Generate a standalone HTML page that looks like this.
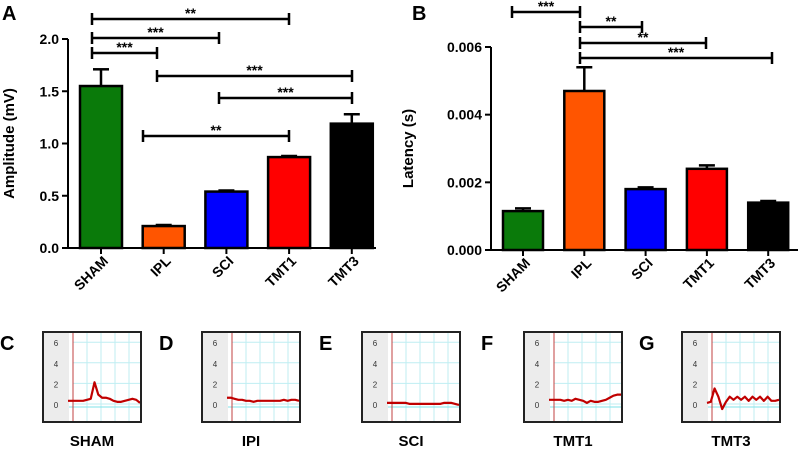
<!DOCTYPE html>
<html><head><meta charset="utf-8">
<style>
body{margin:0;background:#fff;}
svg{display:block;font-family:"Liberation Sans",sans-serif;}
</style></head>
<body>
<svg id="fig" width="800" height="449" viewBox="0 0 800 449" xmlns="http://www.w3.org/2000/svg"></svg>
<script>
const categories = ["SHAM","IPL","SCI","TMT1","TMT3"];
const colors = ["#0a7a0a","#ff5500","#0000ff","#ff0000","#000000"];
const ampValues = [1.55,0.21,0.54,0.87,1.19];
const ampErrors = [0.16,0.01,0.01,0.01,0.09];
const ampTicks = [0,0.5,1.0,1.5,2.0];
const latValues = [0.00115,0.0047,0.0018,0.0024,0.0014];
const latErrors = [0.00008,0.0007,0.00005,0.0001,0.00005];
const latTicks = [0,0.002,0.004,0.006];
const traceLabels = ["SHAM","IPI","SCI","TMT1","TMT3"];
const traceLetters = ["C","D","E","F","G"];
const traceSham = [0.6,0.6,0.6,0.6,0.6,0.7,0.8,2.4,1.2,0.9,0.9,0.8,0.6,0.5,0.5,0.6,0.7,0.8,0.7,0.4];
const traceIpi = [0.9,0.9,0.8,0.7,0.7,0.6,0.6,0.5,0.6,0.6,0.6,0.6,0.6,0.6,0.6,0.7,0.6,0.7,0.7,0.6];
const traceSci = [0.4,0.4,0.4,0.4,0.4,0.4,0.3,0.3,0.3,0.3,0.3,0.3,0.3,0.3,0.3,0.4,0.4,0.4,0.3,0.2];
const traceTmt1 = [0.7,0.7,0.7,0.7,0.6,0.7,0.6,0.8,0.7,0.6,0.4,0.6,0.5,0.5,0.6,0.7,0.9,1.1,1.2,1.2];
const traceTmt3 = [0.4,0.5,1.8,1.0,-0.2,0.5,1.0,0.7,1.0,0.7,1.0,0.6,1.0,0.7,1.0,0.6,1.0,0.6,0.6,0.7];
const traces = [traceSham,traceIpi,traceSci,traceTmt1,traceTmt3];
const ampSig = [[0,3,19,"**"],[0,2,38,"***"],[0,1,53,"***"],[1,4,76,"***"],[2,4,98,"***"],[5,3,136,"**"]];
const latSig = [[0,1,12,"***"],[1,2,27,"**"],[1,3,43,"**"],[1,4,58,"***"]];

const svg = document.getElementById('fig');
const NS = "http://www.w3.org/2000/svg";
function mk(tag, attrs, parent){const e=document.createElementNS(NS,tag);for(const k in attrs)e.setAttribute(k,attrs[k]);(parent||svg).appendChild(e);return e;}

function barChart(o){
  const g = mk('g',{});
  
  
  const y = v => o.y0 - (v/o.max)*(o.y0-o.yTop);
  const xc = i => o.x0c + i*o.step;
  o.values.forEach((v,i)=>{
    const top=y(v+o.errors[i]);
    const el=mk('line',{x1:xc(i),x2:xc(i),y1:top,y2:y(v),stroke:'#000','stroke-width':2.5},g);
    
    
    const cap=mk('line',{x1:xc(i)-8,x2:xc(i)+8,y1:top,y2:top,stroke:'#000','stroke-width':2.5},g);
    
    
    const r=mk('rect',{x:xc(i)-o.bw/2,y:y(v),width:o.bw,height:o.y0-y(v),fill:colors[i],stroke:'#000','stroke-width':2.5},g);
    
    
  });
  const ya=mk('line',{x1:o.ax,x2:o.ax,y1:o.yTop,y2:o.y0,stroke:'#000','stroke-width':2},g);
  
  
  const xa=mk('line',{x1:o.ax,x2:o.xEnd,y1:o.y0,y2:o.y0,stroke:'#000','stroke-width':2},g);
  
  
  o.ticks.forEach(t=>{
    mk('line',{x1:o.ax-6,x2:o.ax,y1:y(t),y2:y(t),stroke:'#000','stroke-width':2},g);
    const tx=mk('text',{x:o.ax-9,y:y(t)+5,'text-anchor':'end','font-size':14,'font-weight':'bold'},g);
    tx.textContent=o.fmt(t);
    
    
  });
  categories.forEach((c,i)=>{
    mk('line',{x1:xc(i),x2:xc(i),y1:o.y0,y2:o.y0+6,stroke:'#000','stroke-width':2},g);
    const tx=mk('text',{x:xc(i)+8,y:o.y0+14,'text-anchor':'end','font-size':14,'font-weight':'bold',transform:`rotate(-45 ${xc(i)+8} ${o.y0+14})`},g);
    tx.textContent=c;
    
    
  });
  const yt=mk('text',{x:0,y:0,'text-anchor':'middle','font-size':15,'font-weight':'bold',transform:`translate(${o.titleX} ${(o.y0+o.yTop)/2}) rotate(-90)`},g);
  yt.textContent=o.title;
  
  
  const pl=mk('text',{x:o.letterX,y:20,'font-size':20,'font-weight':'bold'},g);
  pl.textContent=o.letter;
  
  
  o.sig.forEach(s=>{
    const x1=o.sigX[s[0]], x2=o.sigX[s[1]], yy=s[2];
    const b=mk('path',{d:`M${x1} ${yy-6}V${yy+6}M${x1} ${yy}H${x2}M${x2} ${yy-6}V${yy+6}`,stroke:'#000','stroke-width':2.5,fill:'none'},g);
    
    
    const st=mk('text',{x:(x1+x2)/2,y:yy-1,'text-anchor':'middle','font-size':14,'font-weight':'bold'},g);
    st.textContent=s[3];
    
    
  });
}
barChart({name:'amplitude-chart',values:ampValues,errors:ampErrors,ticks:ampTicks,max:2.0,y0:248,yTop:39,ax:68,xEnd:376,x0c:101,step:62.7,bw:42,fmt:t=>t.toFixed(1),title:'Amplitude (mV)',titleX:14,letter:'A',letterX:2,sig:ampSig,sigX:[92,157,219,289,352,143]});
barChart({name:'latency-chart',values:latValues,errors:latErrors,ticks:latTicks,max:0.006,y0:250,yTop:47,ax:491,xEnd:798,x0c:523,step:61.3,bw:40,fmt:t=>t.toFixed(3),title:'Latency (s)',titleX:413,letter:'B',letterX:412,sig:latSig,sigX:[512,580,642,706,772]});

const boxXs=[43,202,362,524,682];
traces.forEach((tr,k)=>{
  const bx=boxXs[k], by=332, bw=98, bh=90;
  const g=mk('g',{});
  
  
  const L=mk('text',{x:bx-43,y:by+18,'font-size':20,'font-weight':'bold'},g);
  L.textContent=traceLetters[k];
  
  
  mk('rect',{x:bx,y:by,width:bw,height:bh,fill:'#fff'},g);
  mk('rect',{x:bx,y:by,width:26,height:bh,fill:'#ececec'},g);
  const yv=v=>by+75-v*10.3;
  for(let i=1;i<=4;i++){const gx=bx+30+i*14;mk('line',{x1:gx,x2:gx,y1:by,y2:by+bh,stroke:'#bfeef2','stroke-width':1},g);}
  [0,2,4,6].forEach(v=>{
    mk('line',{x1:bx+30,x2:bx+bw,y1:yv(v)-3,y2:yv(v)-3,stroke:'#bfeef2','stroke-width':1},g);
    const t=mk('text',{x:bx+13,y:yv(v)+1,'font-size':8,'text-anchor':'middle',fill:'#333'},g);
    t.textContent=v;
    
    
  });
  mk('line',{x1:bx+26,x2:bx+bw,y1:yv(0),y2:yv(0),stroke:'#7fe3ea','stroke-width':1},g);
  mk('line',{x1:bx+30,x2:bx+30,y1:by,y2:by+bh,stroke:'#c04040','stroke-width':1},g);
  const step=(bw-26)/(tr.length-1);
  const pts=tr.map((v,i)=>`${bx+25+i*step},${yv(v)}`).join(' ');
  const pl=mk('polyline',{points:pts,fill:'none',stroke:'#c00000','stroke-width':2.2,'stroke-linejoin':'round'},g);
  
  
  mk('rect',{x:bx,y:by,width:bw,height:bh,fill:'none',stroke:'#222','stroke-width':2},g);
  const c=mk('text',{x:bx+bw/2,y:446,'text-anchor':'middle','font-size':15,'font-weight':'bold'},g);
  c.textContent=traceLabels[k];
  
  
});
</script>
</body></html>
